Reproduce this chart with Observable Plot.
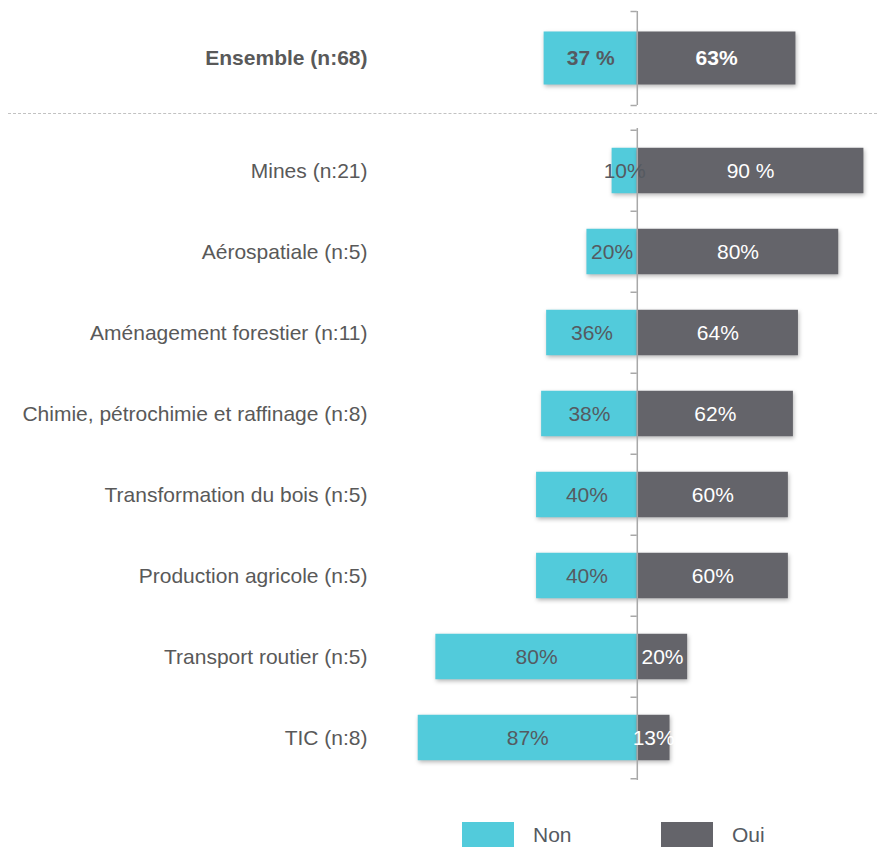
<!DOCTYPE html>
<html><head><meta charset="utf-8">
<script src="https://cdn.jsdelivr.net/npm/d3@7"></script>
<script src="https://cdn.jsdelivr.net/npm/@observablehq/plot@0.6"></script>
<style>
body{margin:0;background:#fff;font-family:"Liberation Sans",Arial,Helvetica,sans-serif;}
#chart{width:877px;}
#chart svg{display:block;}
g[aria-label="bar"]{filter:drop-shadow(1px 2px 2px rgba(0,0,0,0.28));}
.ens text{font-weight:bold;}
.sep{margin-left:8px;border-top:1px dashed #c2c2c2;height:0;margin-top:3px;}
.legend{display:flex;padding-left:462px;margin-top:32px;}
.legend .item{display:flex;align-items:center;width:199px;}
.legend .sw{width:52px;height:26px;margin-right:19px;}
.legend span{font-size:21px;color:#555a62;}
</style></head><body><div id="chart"></div><script>
const ensembleLabel = ["Ensemble (n:68)"];
const ensembleNon = [37];
const ensembleOui = [63];
const ensembleNonText = ["37 %"];
const ensembleOuiText = ["63%"];

const categories = ["Mines (n:21)", "Aérospatiale (n:5)", "Aménagement forestier (n:11)", "Chimie, pétrochimie et raffinage (n:8)", "Transformation du bois (n:5)", "Production agricole (n:5)", "Transport routier (n:5)", "TIC (n:8)"];
const nonValues = [10, 20, 36, 38, 40, 40, 80, 87];
const ouiValues = [90, 80, 64, 62, 60, 60, 20, 13];
const nonText = ["10%", "20%", "36%", "38%", "40%", "40%", "80%", "87%"];
const ouiText = ["90 %", "80%", "64%", "62%", "60%", "60%", "20%", "13%"];

const seriesNames = ["Non", "Oui"];
const seriesColors = ["#52cbdb", "#64646a"];

const axisColor = "#a8a8a8";

function makeChart(cats, non, oui, nonT, ouiT, opt) {
  const rows = cats.map((c, i) => ({cat: c, non: non[i], oui: oui[i], nonT: nonT[i], ouiT: ouiT[i]}));
  const step = (opt.height - opt.marginTop - opt.marginBottom) / cats.length;
  const inset = step * 0.218;
  return Plot.plot({
    width: 877,
    height: opt.height,
    marginLeft: 385,
    marginRight: 1,
    marginTop: opt.marginTop,
    marginBottom: opt.marginBottom,
    style: {fontSize: "21px", fontFamily: "'Liberation Sans', Arial, sans-serif", color: "#595959", background: "transparent"},
    x: {domain: [-100, 95], axis: null},
    y: {domain: cats, padding: 0, tickSize: 0, tickPadding: 18, label: null},
    marks: [
      Plot.barX(rows, {y: "cat", x1: d => -d.non, x2: 0, fill: seriesColors[0], insetTop: inset, insetBottom: inset}),
      Plot.barX(rows, {y: "cat", x1: 0, x2: d => d.oui, fill: seriesColors[1], insetTop: inset, insetBottom: inset}),
      Plot.ruleX([0], {stroke: axisColor, strokeWidth: 1.5}),
      Plot.ruleY(cats, {y: d => d, x1: -2.5, x2: 0, dy: -step / 2, stroke: axisColor, strokeWidth: 1.5}),
      Plot.ruleY(cats.slice(-1), {y: d => d, x1: -2.5, x2: 0, dy: step / 2, stroke: axisColor, strokeWidth: 1.5}),
      Plot.text(rows, {y: "cat", x: d => -d.non / 2, text: "nonT", fill: "#555a61", fontSize: 21}),
      Plot.text(rows, {y: "cat", x: d => d.oui / 2, text: "ouiT", fill: "white", fontSize: 21})
    ]
  });
}

const chartEl = document.getElementById("chart");
const topChart = makeChart(ensembleLabel, ensembleNon, ensembleOui, ensembleNonText, ensembleOuiText, {height: 110, marginTop: 11, marginBottom: 5});
topChart.classList.add("ens");
chartEl.appendChild(topChart);
const sep = document.createElement("div");
sep.className = "sep";
chartEl.appendChild(sep);
chartEl.appendChild(makeChart(categories, nonValues, ouiValues, nonText, ouiText, {height: 676, marginTop: 14, marginBottom: 10}));

const legend = document.createElement("div");
legend.className = "legend";
seriesNames.forEach((name, i) => {
  const item = document.createElement("div");
  item.className = "item";
  const sw = document.createElement("div");
  sw.className = "sw";
  sw.style.background = seriesColors[i];
  const label = document.createElement("span");
  label.textContent = name;
  item.appendChild(sw);
  item.appendChild(label);
  legend.appendChild(item);
});
chartEl.appendChild(legend);
</script></body></html>
